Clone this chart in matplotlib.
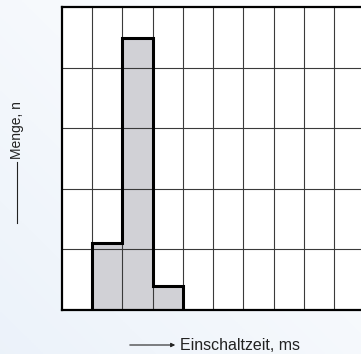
import numpy as np
import matplotlib
matplotlib.use("Agg")
import matplotlib.pyplot as plt

# Histogramm der Einschaltzeiten
edges = [1, 2, 3, 4]
counts = [1.1, 4.5, 0.4]
x_grid = list(range(0, 10))
y_grid = [0, 1, 2, 3, 4, 5]

plt.rcParams['font.family'] = ['Liberation Sans', 'DejaVu Sans']

fig = plt.figure(figsize=(3.61, 3.54), dpi=100)

# leichter Hintergrundverlauf
bg = fig.add_axes([0, 0, 1, 1])
gx, gy = np.meshgrid(np.linspace(0, 1, 200), np.linspace(0, 1, 200))
t = np.clip((gx + (1 - gy)) / 2, 0, 1)
img = np.zeros((200, 200, 3))
c0 = np.array([1.0, 1.0, 1.0])
c1 = np.array([0.925, 0.95, 0.98])
for i in range(3):
    img[:, :, i] = c0[i] + (c1[i] - c0[i]) * (1 - t)
bg.imshow(img, extent=[0, 1, 0, 1], aspect='auto', origin='upper')
bg.axis('off')

ax = fig.add_axes([61.7 / 361, 44 / 354, 1 - 61.7 / 361, 302.7 / 354])
ax.set_facecolor('white')
ax.set_xlim(0, 9.88)
ax.set_ylim(0, 5)

ax.stairs(counts, edges, fill=True, color='#d1d1d6', zorder=1)
for xv in x_grid[1:]:
    ax.axvline(xv, color='#3a3a3a', lw=0.8, zorder=2)
for yv in y_grid[1:-1]:
    ax.axhline(yv, color='#3a3a3a', lw=0.8, zorder=2)
ax.stairs(counts, edges, baseline=0, color='black', lw=2.2, zorder=3)

for s in ['left', 'bottom', 'top']:
    ax.spines[s].set_linewidth(1.6)
    ax.spines[s].set_color('black')
ax.spines['right'].set_visible(False)
ax.set_xticks([])
ax.set_yticks([])

# Achsenbeschriftungen mit Pfeilen
fig.text(180 / 361, 1 - 345 / 354, 'Einschaltzeit, ms', fontsize=11.5,
         color='#222222', ha='left', va='center')
fig.patches.append(matplotlib.patches.FancyArrowPatch(
    (127 / 361, 1 - 345 / 354), (178 / 361, 1 - 345 / 354),
    transform=fig.transFigure, arrowstyle='-|>', mutation_scale=6,
    lw=0.8, color='#222222'))

fig.text(17 / 361, 1 - 130 / 354, 'Menge, n', fontsize=10, rotation=90,
         color='#222222', ha='center', va='center')
fig.add_artist(plt.Line2D([17 / 361, 17 / 361], [1 - 162 / 354, 1 - 223 / 354],
                          transform=fig.transFigure, lw=0.8, color='#222222'))

fig.savefig('out.png', dpi=100)
